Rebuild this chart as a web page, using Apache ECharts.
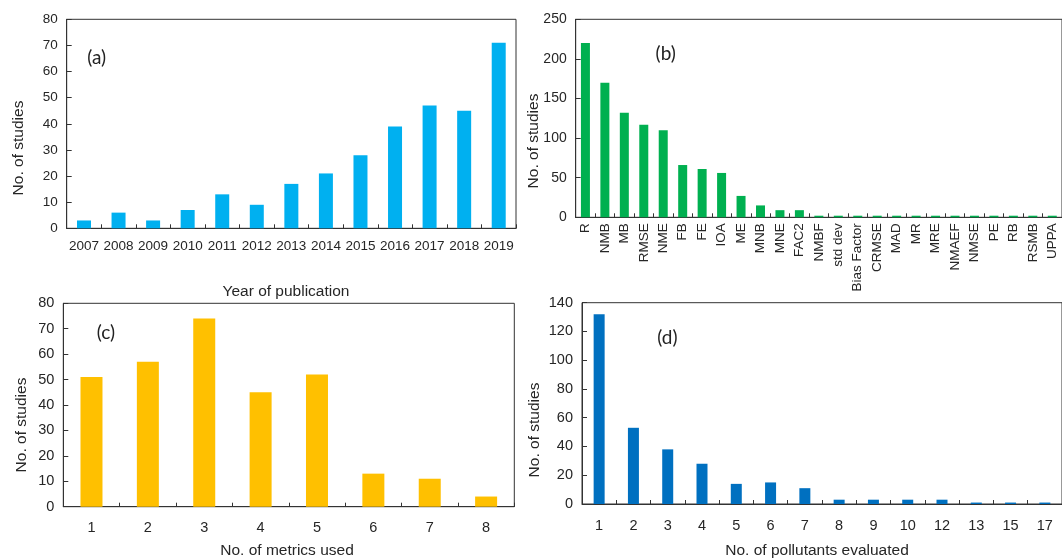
<!DOCTYPE html>
<html>
<head>
<meta charset="utf-8">
<script src="https://cdn.jsdelivr.net/npm/echarts@6/dist/echarts.min.js"></script>
<style>
html,body{margin:0;padding:0;background:#fff;}
#c{width:1062px;height:558px;}
</style>
</head>
<body>
<div id="c"></div>
<script>
// ---- data ----
const yearsA = ['2007','2008','2009','2010','2011','2012','2013','2014','2015','2016','2017','2018','2019'];
const valuesA = [3, 6, 3, 7, 13, 9, 17, 21, 28, 39, 47, 45, 71];

const metricsB = ['R','NMB','MB','RMSE','NME','FB','FE','IOA','ME','MNB','MNE','FAC2','NMBF','std dev','Bias Factor','CRMSE','MAD','MR','MRE','NMAEF','NMSE','PE','RB','RSMB','UPPA'];
const valuesB = [220, 170, 132, 117, 110, 66, 61, 56, 27, 15, 9, 9, 2, 2, 2, 2, 2, 2, 2, 2, 2, 2, 2, 2, 2];

const countsC = ['1','2','3','4','5','6','7','8'];
const valuesC = [51, 57, 74, 45, 52, 13, 11, 4];

const pollutantsD = ['1','2','3','4','5','6','7','8','9','10','12','13','15','17'];
const valuesD = [132, 53, 38, 28, 14, 15, 11, 3, 3, 3, 3, 1, 1, 1];

const yTicksA = {min: 0, max: 80, interval: 10};
const yTicksB = {min: 0, max: 250, interval: 50};
const yTicksC = {min: 0, max: 80, interval: 10};
const yTicksD = {min: 0, max: 140, interval: 20};

// ---- styling ----
const AX = '#333333';
const TXT = '#262626';
const FONT = 'Liberation Sans, Arial, sans-serif';

function xAxisDef(gi, cats, fs, margin, rotate) {
  return {
    type: 'category', gridIndex: gi, data: cats,
    axisLine: {show: true, lineStyle: {color: AX, width: 1}},
    axisTick: {show: true, inside: true, length: 4, lineStyle: {color: AX}},
    axisLabel: {interval: 0, color: TXT, fontSize: fs, fontFamily: FONT, margin: margin, rotate: rotate || 0},
    splitLine: {show: false}
  };
}
function yAxisDef(gi, t, fs) {
  return {
    type: 'value', gridIndex: gi, min: t.min, max: t.max, interval: t.interval,
    axisLine: {show: true, lineStyle: {color: AX, width: 1}},
    axisTick: {show: true, inside: true, length: 5, lineStyle: {color: AX}},
    axisLabel: {color: TXT, fontSize: fs, fontFamily: FONT, margin: 9},
    splitLine: {show: false}
  };
}
function gridDef(l, t, w, h) {
  return {left: l, top: t, width: w, height: h, show: true, borderColor: AX, borderWidth: 1, backgroundColor: 'transparent', containLabel: false};
}
function barDef(gi, vals, color, bw) {
  return {type: 'bar', xAxisIndex: gi, yAxisIndex: gi, data: vals, barWidth: bw,
    itemStyle: {color: color}, animation: false, silent: true};
}
function vTitle(x, y, text) {
  return {type: 'text', x: x, y: y, rotation: Math.PI / 2,
    style: {text: text, fill: TXT, font: '15.5px ' + FONT, align: 'center', verticalAlign: 'middle'}};
}
function hTitle(x, y, text) {
  return {type: 'text', x: x, y: y,
    style: {text: text, fill: TXT, font: '15.5px ' + FONT, align: 'center', verticalAlign: 'middle'}};
}
function panelLabel(x, y, text) {
  return {type: 'text', x: x, y: y,
    style: {text: text, fill: '#222', font: '19px Lato, "Open Sans", sans-serif', align: 'center', verticalAlign: 'middle'}};
}

const chart = echarts.init(document.getElementById('c'), null, {renderer: 'canvas'});
chart.setOption({
  animation: false,
  backgroundColor: '#ffffff',
  grid: [
    gridDef(66.7, 19.3, 449.3, 209),
    gridDef(575.7, 19.3, 489.3, 198),
    gridDef(63.3, 303.3, 451, 203.4),
    gridDef(582, 302.7, 483, 201.3)
  ],
  xAxis: [
    xAxisDef(0, yearsA, 13.5, 11),
    xAxisDef(1, metricsB, 13.5, 6, 90),
    xAxisDef(2, countsC, 14.5, 14),
    xAxisDef(3, pollutantsD, 14.5, 14)
  ],
  yAxis: [
    yAxisDef(0, yTicksA, 13.5),
    yAxisDef(1, yTicksB, 14),
    yAxisDef(2, yTicksC, 14.5),
    yAxisDef(3, yTicksD, 14.5)
  ],
  series: [
    barDef(0, valuesA, '#00B0F0', 14),
    barDef(1, valuesB, '#00B050', 9),
    barDef(2, valuesC, '#FFC000', 22),
    barDef(3, valuesD, '#0070C0', 11)
  ],
  graphic: [
    vTitle(18.3, 148, 'No. of studies'),
    hTitle(286, 292, 'Year of publication'),
    vTitle(534, 141, 'No. of studies'),
    vTitle(21.7, 425, 'No. of studies'),
    hTitle(287, 550.5, 'No. of metrics used'),
    vTitle(535, 430, 'No. of studies'),
    hTitle(817, 550.5, 'No. of pollutants evaluated'),
    panelLabel(96.7, 58.3, '(a)'),
    panelLabel(665.7, 54.3, '(b)'),
    panelLabel(106, 333.3, '(c)'),
    panelLabel(667.4, 337.5, '(d)')
  ]
});
</script>
</body>
</html>
